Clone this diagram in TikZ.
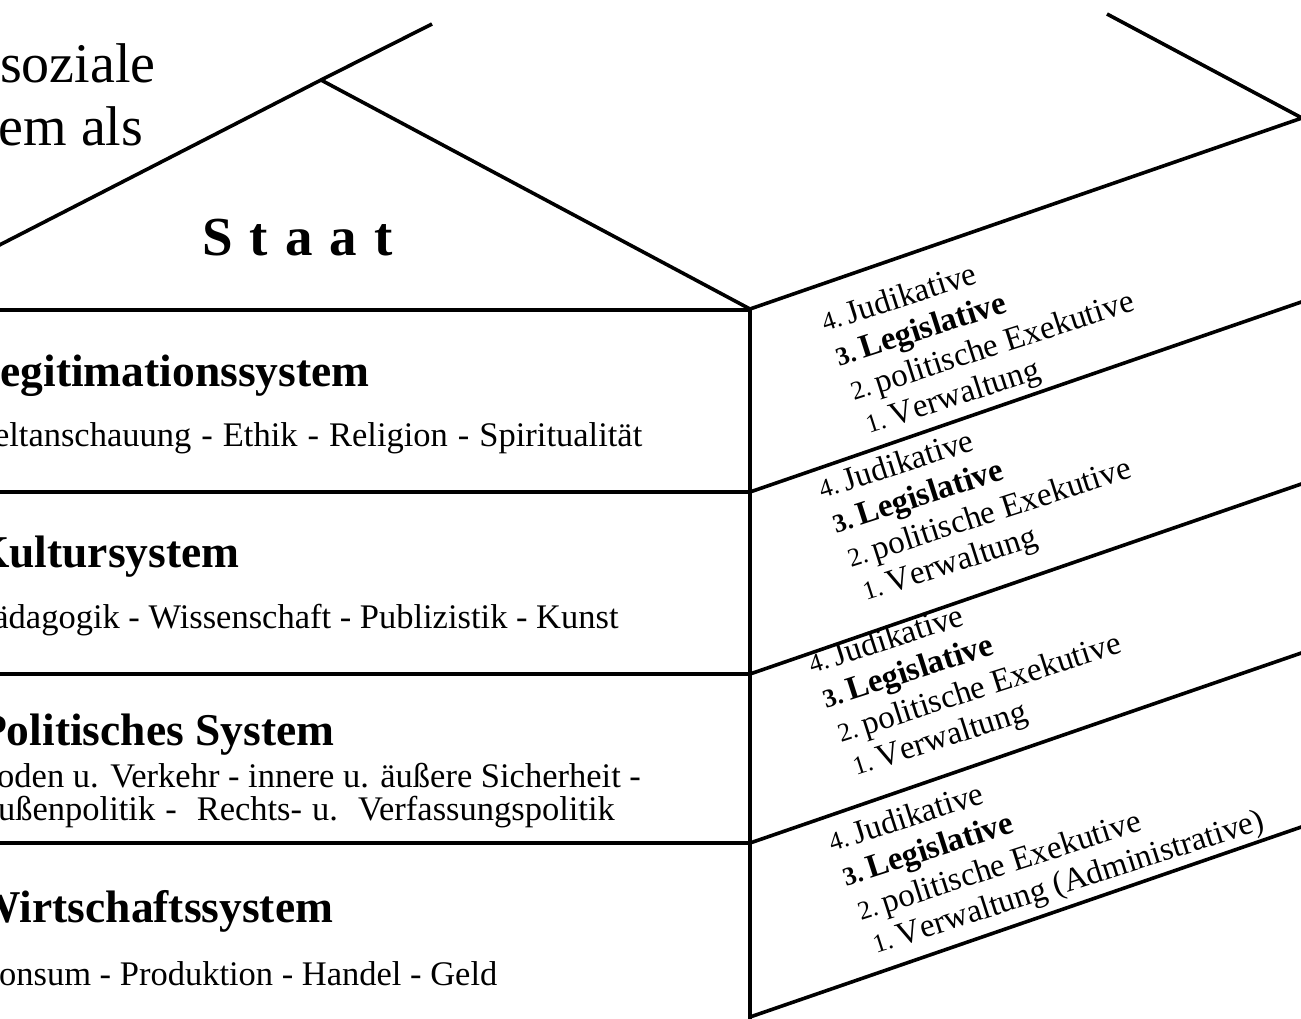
\documentclass[tikz,border=0pt]{standalone}
\usepackage{fontspec}
\setmainfont{Liberation Serif}
\newfontfamily\rfont[Kerning=Off]{Liberation Serif}
\newcommand{\nr}[1]{{\fontsize{26}{28}\selectfont\spaceskip=4pt #1 }}
\begin{document}
\begin{tikzpicture}[x=1pt,y=-1pt,line join=miter,
  hd/.style={anchor=base west,inner sep=0pt,font=\fontsize{45.5}{50}\selectfont\bfseries},
  bd/.style={anchor=base west,inner sep=0pt,font=\fontsize{34.5}{40}\selectfont},
  ttl/.style={anchor=base west,inner sep=0pt,font=\fontsize{56}{60}\selectfont},
  rt/.style={anchor=base west,inner sep=0pt,rotate=17.8,font=\rfont\fontsize{33}{36}\selectfont},
  edge/.style={line width=3.6pt}]
\useasboundingbox (0,0) rectangle (1301,1018);
\clip (0,0) rectangle (1301,1018);
% corner coordinates
\coordinate (L0) at (-20,255);
\coordinate (AP) at (321,80);
\coordinate (R0) at (432,24);
\coordinate (C1) at (750,309);
\coordinate (B1) at (1107,14);
\coordinate (B2) at (1302,118);
% roof
\draw[edge] (L0) -- (AP) -- (R0);
\draw[edge] (AP) -- (C1);
\draw[edge] (B1) -- (B2) -- (C1);
% front wall
\draw[edge] (-30,310) -- (750,310);
\draw[edge] (-30,492) -- (750,492);
\draw[edge] (-30,674) -- (750,674);
\draw[edge] (-30,843) -- (750,843);
\draw[edge] (C1) -- (750,1030);
% side wall
\draw[edge] (750,492) -- (1310,299);
\draw[edge] (750,674) -- (1310,481);
\draw[edge] (750,843) -- (1310,650);
\draw[edge] (750,1017) -- (1310,824);
% title
\node[ttl] (t1) at (0,82) {soziale};
\node[ttl] (t2) at (-98,145) {System als};
\node[anchor=base west,inner sep=0pt,font=\fontsize{55}{60}\selectfont\bfseries] (staat) at (202,255) {\spaceskip=17pt S t a a t};
% front rows
\node[hd] (h1) at (-30,386) {Legitimationssystem};
\node[bd] (b1) at (-36,446) {\spaceskip=10pt Weltanschauung - Ethik - Religion - Spiritualität};
\node[hd] (h2) at (-26,567) {Kultursystem};
\node[bd] (b2) at (-26,628) {Pädagogik - Wissenschaft - Publizistik - Kunst};
\node[hd] (h3) at (-21,745) {Politisches System};
\node[bd] (b3) at (-26,787) {Boden u. Verkehr - innere u. äußere Sicherheit -};
\node[bd] (b4) at (-27,820) {\spaceskip=10pt Außenpolitik -\ \ Rechts- u.\ \ Verfassungspolitik};
\node[hd] (h4) at (-25,922) {Wirtschaftssystem};
\node[bd] (b5) at (-26,985) {Konsum - Produktion - Handel - Geld};
% side panels
\foreach \px/\py/\last [count=\i] in {825/332/{Verwaltung}, 822/499/{Verwaltung}, 812/674/{Verwaltung}, 832/852/{Verwaltung (Administrative)}}{
  \node[rt] (j\i) at (\px,\py) {\nr{4.}Judikative};
  \node[rt] (l\i) at (\px+14,\py+34.5) {\bfseries\nr{3.}Legislative};
  \node[rt] (e\i) at (\px+29,\py+69) {\nr{2.}politische Exekutive};
  \node[rt] (v\i) at (\px+44,\py+102) {\nr{1.}\last};
}
\end{tikzpicture}
\end{document}
